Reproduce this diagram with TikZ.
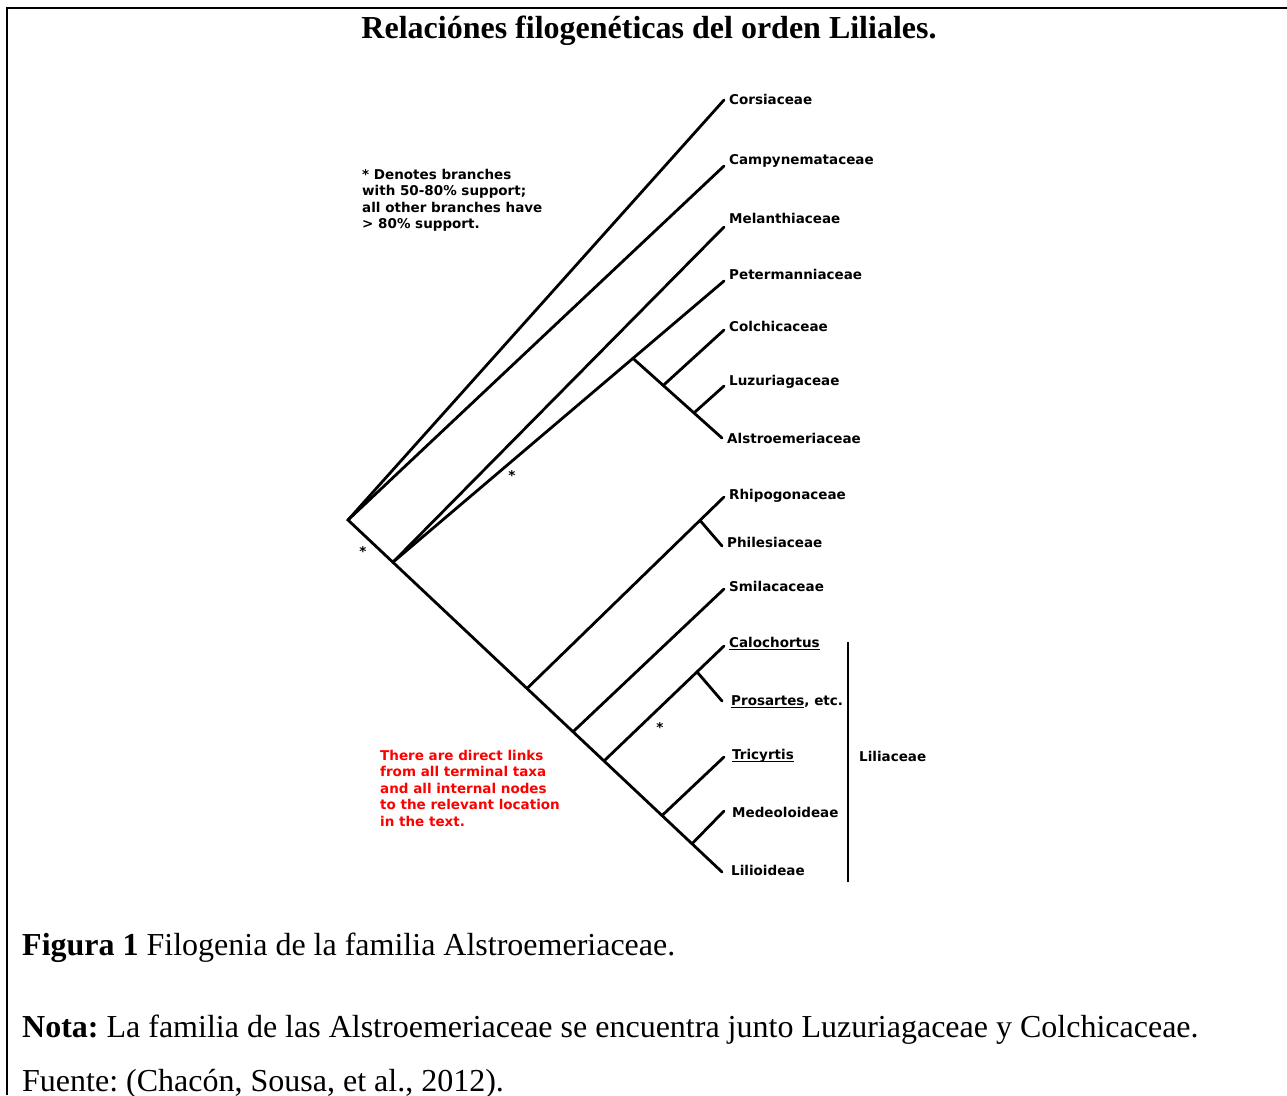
\documentclass[tikz,border=0pt]{standalone}
\usepackage{fontspec}
\setmainfont{Liberation Serif}
\newfontfamily\treefont{DejaVu Sans}
\usetikzlibrary{calc}
\frenchspacing
\newcommand{\taxfont}{\treefont\bfseries\fontsize{13.5}{16.5}\selectfont}
\newcommand{\ul}[1]{\underline{\smash{#1}}}
\tikzset{
	branch/.style={line width=2.8pt, line cap=round},
	taxon/.style={anchor=base west, inner sep=0pt, xshift=5pt, yshift=-4.5pt, font=\taxfont},
	support/.style={inner sep=0pt, font=\taxfont},
	note/.style={anchor=north west, inner sep=0pt, align=left, font=\taxfont},
	body/.style={anchor=base west, inner sep=0pt, font=\fontsize{32}{38}\selectfont}
}

\begin{document}
\begin{tikzpicture}[x=1pt, y=-1pt]
				\useasboundingbox (0,0) rectangle (1287,1095);
				\draw[line width=2pt] (7,1095) -- (7,7.5) -- (1287,7.5);
				
				\node[inner sep=0pt, anchor=base, font=\fontsize{32}{38}\selectfont\bfseries] (title) at (649,38.5) {Relaciónes filogenéticas del orden Liliales.};
				
				\coordinate (root) at (348,520);
				\coordinate (tCors) at (724,100);
				\coordinate (tCamp) at (724,166);
				\coordinate (tMel) at (724,227);
				\coordinate (tPet) at (724,281);
				\coordinate (tCol) at (724,330);
				\coordinate (tLuz) at (724,386);
				\coordinate (tAls) at (722,438);
				\coordinate (tRhi) at (724,497);
				\coordinate (tPhi) at (722,546);
				\coordinate (tSmi) at (724,589);
				\coordinate (tCal) at (724,646);
				\coordinate (tPro) at (722,701);
				\coordinate (tTri) at (724,757);
				\coordinate (tMed) at (724,811);
				\coordinate (tLil) at (722,872);
				
				\coordinate (n1) at ($(root)!0.12!(tLil)$);
				\coordinate (nColch) at ($(n1)!0.725!(tPet)$);
				\coordinate (nLuz) at ($(nColch)!0.34!(tAls)$);
				\coordinate (nAls) at ($(nColch)!0.685!(tAls)$);
				\coordinate (nRhi) at ($(root)!0.4786!(tLil)$);
				\coordinate (nPhi) at ($(nRhi)!0.878!(tRhi)$);
				\coordinate (nSmi) at ($(root)!0.6016!(tLil)$);
				\coordinate (nCal) at ($(root)!0.6845!(tLil)$);
				\coordinate (nPro) at ($(nCal)!0.775!(tCal)$);
				\coordinate (nTri) at ($(root)!0.8396!(tLil)$);
				\coordinate (nMed) at ($(root)!0.9198!(tLil)$);
				
				\draw[branch] (tCors) -- (root) -- (tLil);
				\draw[branch] (root) -- (tCamp);
				\draw[branch] (n1) -- (tMel);
				\draw[branch] (n1) -- (tPet);
				\draw[branch] (nColch) -- (tAls);
				\draw[branch] (nLuz) -- (tCol);
				\draw[branch] (nAls) -- (tLuz);
				\draw[branch] (nRhi) -- (tRhi);
				\draw[branch] (nPhi) -- (tPhi);
				\draw[branch] (nSmi) -- (tSmi);
				\draw[branch] (nCal) -- (tCal);
				\draw[branch] (nPro) -- (tPro);
				\draw[branch] (nTri) -- (tTri);
				\draw[branch] (nMed) -- (tMed);
				
				\node[taxon] (lCors) at (tCors) {Corsiaceae};
				\node[taxon, yshift=6pt] (lCamp) at (tCamp) {Campynemataceae};
				\node[taxon, yshift=8pt] (lMel) at (tMel) {Melanthiaceae};
				\node[taxon, yshift=6pt] (lPet) at (tPet) {Petermanniaceae};
				\node[taxon, yshift=3pt] (lCol) at (tCol) {Colchicaceae};
				\node[taxon, yshift=5pt] (lLuz) at (tLuz) {Luzuriagaceae};
				\node[taxon, yshift=-1pt] (lAls) at (tAls) {Alstroemeriaceae};
				\node[taxon, yshift=2pt] (lRhi) at (tRhi) {Rhipogonaceae};
				\node[taxon, yshift=3pt] (lPhi) at (tPhi) {Philesiaceae};
				\node[taxon, yshift=2pt] (lSmi) at (tSmi) {Smilacaceae};
				\node[taxon, yshift=3pt] (lCal) at (tCal) {\ul{Calochortus}};
				\node[taxon, xshift=4pt] (lPro) at (tPro) {\ul{Prosartes}, etc.};
				\node[taxon, xshift=3pt, yshift=2pt] (lTri) at (tTri) {\ul{Tricyrtis}};
				\node[taxon, xshift=3pt, yshift=-2pt] (lMed) at (tMed) {Medeoloideae};
				\node[taxon, xshift=4pt, yshift=1pt] (lLil) at (tLil) {Lilioideae};
				
				\draw[line width=2.4pt] (848,642) -- (848,882);
				\node[taxon] (lLilia) at (854,757) {Liliaceae};
				
				\node[support] (s1) at (363,551) {*};
				\node[support] (s2) at (512,475) {*};
				\node[support] (s3) at (660,727) {*};
				
				\node[note] (legend) at (362,169) {* Denotes branches\\with 50-80\% support;\\all other branches have\\> 80\% support.};
				\node[note, text=red] (links) at (380,750) {There are direct links\\from all terminal taxa\\and all internal nodes\\to the relevant location\\in the text.};
				
				\node[body] (fig) at (22,955.5) {\textbf{Figura 1} Filogenia de la familia Alstroemeriaceae.};
				\node[body] (nota) at (22,1037.5) {\textbf{Nota:} La familia de las Alstroemeriaceae se encuentra junto Luzuriagaceae y Colchicaceae.};
				\node[body] (fuente) at (22,1091.5) {Fuente: (Chacón, Sousa, et al., 2012).};
\end{tikzpicture}
\end{document}
